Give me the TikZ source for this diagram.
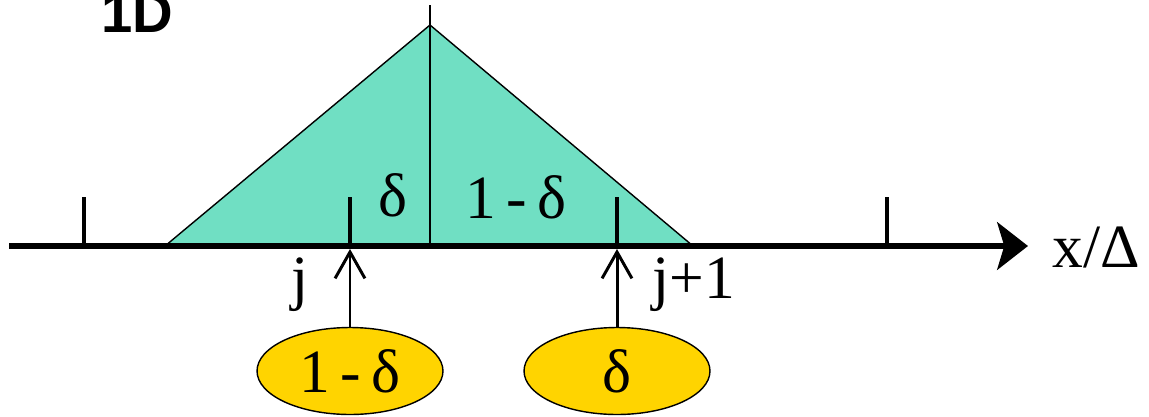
\documentclass[tikz,border=0pt]{standalone}
\usepackage{fontspec}
\setmainfont{Liberation Serif}
\newfontfamily\labelfont{Liberation Serif}
\newfontfamily\headfont{Liberation Sans}
\usetikzlibrary{arrows.meta,positioning,shapes.geometric}
\definecolor{hatfill}{HTML}{70DFC3}
\definecolor{weightgold}{HTML}{FFD400}
\tikzset{
  axisline/.style={line width=3.4pt, -{Stealth[length=17.5pt, width=27pt, inset=4pt]}},
  tickmark/.style={line width=2.8pt},
  thinline/.style={line width=0.8pt},
  weightarrow/.style={line width=1.7pt,
    -{Straight Barb[length=15pt, width=17pt, line width=1.7pt]}},
  weightbox/.style={ellipse, draw=black, line width=0.8pt, fill=weightgold,
    minimum width=3.72cm, minimum height=1.74cm, inner sep=0pt,
    font=\labelfont\fontsize{35}{40}\selectfont},
  labeltext/.style={font=\labelfont\fontsize{35}{40}\selectfont, inner sep=0pt},
}
\begin{document}
\begin{tikzpicture}[x=0.02cm, y=-0.02cm]
  \useasboundingbox (0,0) rectangle (1149,416);
  % hat function
  \filldraw[fill=hatfill, thinline] (165,246) -- (430,25) -- (693,246) -- cycle;
  \coordinate (top) at (430,5);
  \coordinate (mid) at (430,246);
  \draw[thinline] (top) -- (mid);
  % axis and grid ticks
  \coordinate (axstart) at (9,246);
  \coordinate (axend) at (1028,246);
  \draw[axisline] (axstart) -- (axend);
  \foreach \name/\x in {t0/84, t1/350, t2/617, t3/887} {
    \coordinate (\name) at (\x,246);
    \draw[tickmark] (\name) -- ++(0,-49);
  }
  % labels
  \node[font=\headfont\bfseries\fontsize{32}{36}\selectfont, anchor=base west, inner sep=0pt] (title) at (101,32) {1D};
  \node[labeltext] (dl) at (393,195) {δ};
  \node[labeltext] (dr) at (516,197) {1\,-\,δ};
  \node[labeltext, anchor=base] (jl) at (300,298) {j};
  \node[labeltext, anchor=base west] (jr) at (652,298) {j+1};
  \node[labeltext, anchor=west] (xl) at (1052,247) {x/Δ};
  % weights
  \node[weightbox] (w1) at (350,371) {1\,-\,δ};
  \node[weightbox] (w2) at (617,371) {δ};
  \coordinate (p1) at (350,249);
  \coordinate (p2) at (617,249);
  \draw[weightarrow] (w1.north) -- (p1);
  \draw[weightarrow] (w2.north) -- (p2);
\end{tikzpicture}
\end{document}
